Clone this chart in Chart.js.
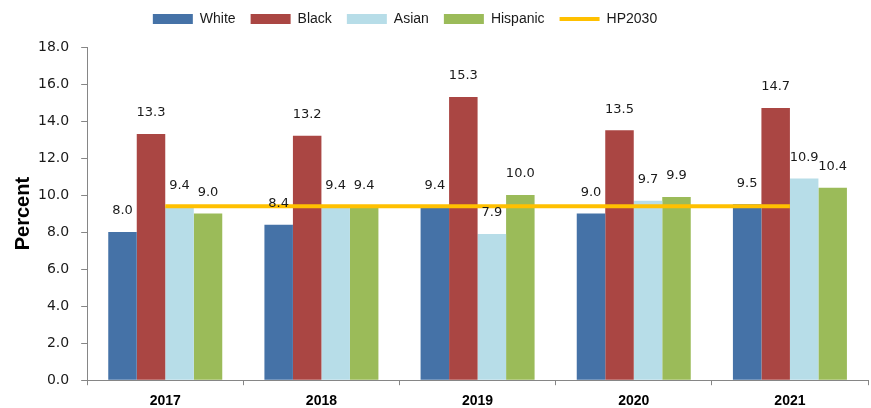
<!DOCTYPE html>
<html>
<head>
<meta charset="utf-8">
<script src="https://cdn.jsdelivr.net/npm/chart.js@4"></script>
<style>
  body { margin: 0; background: #fff; }
  .wrap { width: 871px; height: 408px; }
</style>
</head>
<body>
<div class="wrap"><canvas class="myChart"></canvas></div>
<script>
const years = ["2017", "2018", "2019", "2020", "2021"];
const white = [8.0, 8.4, 9.4, 9.0, 9.5];
const black = [13.3, 13.2, 15.3, 13.5, 14.7];
const asian = [9.4, 9.4, 7.9, 9.7, 10.9];
const hispanic = [9.0, 9.4, 10.0, 9.9, 10.4];
const hp2030 = [9.4, 9.4, 9.4, 9.4, 9.4];
const yTicks = [0, 2, 4, 6, 8, 10, 12, 14, 16, 18];

const axisGrey = "#868686";

// value labels above each bar
const barLabels = {
  id: "barLabels",
  afterDatasetsDraw(chart) {
    const c = chart.ctx;
    c.save();
    c.font = "13px 'DejaVu Sans'";
    c.fillStyle = "#1a1a1a";
    c.textAlign = "center";
    c.textBaseline = "middle";
    chart.data.datasets.forEach((ds, i) => {
      if (ds.type === "line") return;
      chart.getDatasetMeta(i).data.forEach((bar, j) => {
        c.fillText(ds.data[j].toFixed(1), bar.x, bar.y - 21);
      });
    });
    c.restore();
  },
};

// more room under the legend, and legend sits a little left of centre
const legendTweak = {
  id: "legendTweak",
  beforeInit(chart) {
    const lg = chart.legend;
    const fit = lg.fit;
    lg.fit = function () {
      fit.call(lg);
      this.height += 11;
    };
    const draw = lg.draw;
    lg.draw = function (area) {
      chart.ctx.save();
      chart.ctx.translate(-29, 0);
      draw.call(lg, area);
      chart.ctx.restore();
    };
  },
};

const ctx = document.querySelector(".myChart");

new Chart(ctx, {
  type: "bar",
  data: {
    labels: years,
    datasets: [
      { label: "White", data: white, backgroundColor: "#4572A7" },
      { label: "Black", data: black, backgroundColor: "#AA4643" },
      { label: "Asian", data: asian, backgroundColor: "#B7DDE8" },
      { label: "Hispanic", data: hispanic, backgroundColor: "#9BBB59" },
      {
        type: "line",
        label: "HP2030",
        data: hp2030,
        borderColor: "#FFC000",
        backgroundColor: "#FFC000",
        borderWidth: 4,
        pointRadius: 0,
        order: -1,
      },
    ],
  },
  options: {
    responsive: true,
    maintainAspectRatio: false,
    animation: false,
    datasets: {
      bar: { categoryPercentage: 0.73, barPercentage: 1.0, borderWidth: 0 },
    },
    layout: { padding: { top: -3, right: 3, left: 0, bottom: -10 } },
    plugins: {
      tooltip: { enabled: false },
      legend: {
        position: "top",
        labels: {
          usePointStyle: true,
          pointStyleWidth: 40,
          boxHeight: 10,
          padding: 15,
          color: "#1a1a1a",
          font: { family: "'Liberation Sans'", size: 14 },
          sort: (a, b) => a.datasetIndex - b.datasetIndex,
          generateLabels: (chart) =>
            Chart.defaults.plugins.legend.labels.generateLabels(chart).map((l) => {
              if (l.text === "HP2030") {
                l.pointStyle = "line";
                l.lineWidth = 4;
              } else {
                l.pointStyle = "rect";
                l.lineWidth = 0;
              }
              return l;
            }),
        },
      },
    },
    scales: {
      x: {
        grid: {
          display: true,
          drawOnChartArea: false,
          offset: true,
          color: axisGrey,
          tickLength: 5,
        },
        border: { color: axisGrey, width: 1 },
        ticks: {
          color: "#000",
          padding: 8,
          font: { family: "'Liberation Sans'", size: 14, weight: "bold" },
        },
      },
      y: {
        min: 0,
        max: 18,
        afterBuildTicks: (axis) => {
          axis.ticks = yTicks.map((v) => ({ value: v }));
        },
        grid: {
          display: true,
          drawOnChartArea: false,
          color: axisGrey,
          tickLength: 6,
        },
        border: { color: axisGrey, width: 1 },
        ticks: {
          color: "#1a1a1a",
          padding: 12,
          font: { family: "'DejaVu Sans'", size: 14 },
          callback: (v) => Number(v).toFixed(1),
        },
        title: {
          display: true,
          text: "Percent",
          color: "#000",
          padding: { top: 11, bottom: -9 },
          font: { family: "'Liberation Sans'", size: 20, weight: "bold" },
        },
      },
    },
  },
  plugins: [barLabels, legendTweak],
});
</script>
</body>
</html>
